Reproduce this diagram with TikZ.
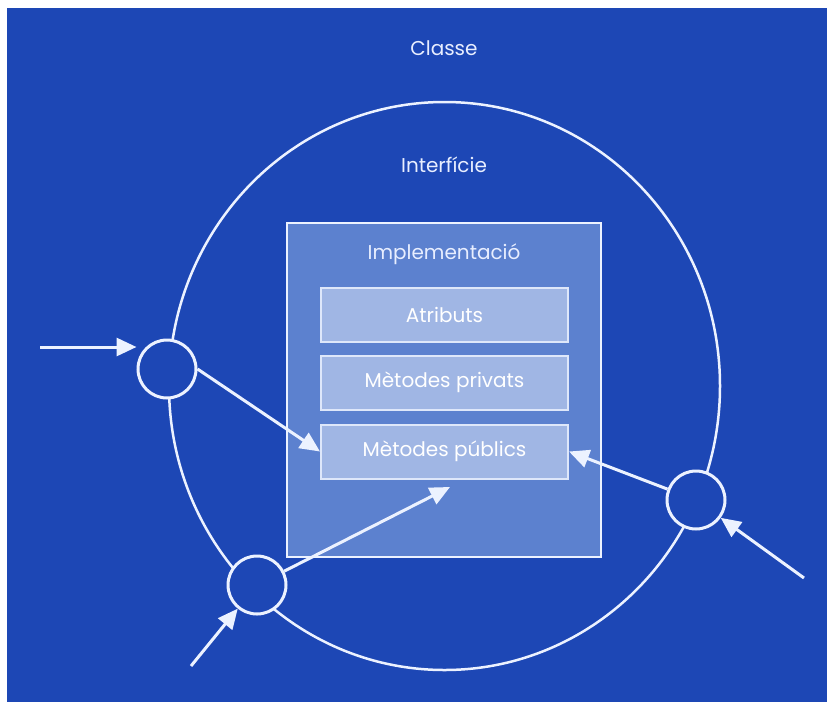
\documentclass[tikz,border=0pt]{standalone}
\usepackage{fontspec}
\setmainfont{Poppins}
\usetikzlibrary{arrows.meta,shapes.geometric}
\definecolor{bg}{RGB}{29,71,181}
\definecolor{impl}{RGB}{92,129,207}
\definecolor{inner}{RGB}{160,182,228}
\definecolor{ln}{RGB}{236,242,255}
\definecolor{txt}{RGB}{232,238,255}
\tikzset{
  lbl/.style={text=txt, font=\fontsize{20}{24}\selectfont, inner sep=0pt},
  bigring/.style={ellipse, draw=ln, line width=2.5pt, minimum width=551pt, minimum height=568pt, inner sep=0pt},
  implbox/.style={rectangle, draw=ln, fill=impl, line width=2pt, minimum width=314pt, minimum height=334pt, inner sep=0pt},
  partbox/.style={rectangle, draw=ln!90!impl, fill=inner, line width=2pt, minimum width=247pt, minimum height=54pt, inner sep=0pt, text=white, font=\fontsize{20}{24}\selectfont},
  port/.style={circle, draw=ln, fill=bg, line width=3pt, minimum size=58pt, inner sep=0pt},
  arr/.style={draw=ln, line width=3pt, -{Triangle[length=20pt,width=18pt]}}
}
\begin{document}
\begin{tikzpicture}[x=1pt,y=-1pt]
\useasboundingbox (0,0) rectangle (827,702);
\fill[bg] (7,8) rectangle (827,702);
\node[bigring] (big) at (444.5,386) {};
\node[lbl] (classe) at (444,48) {Classe};
\node[lbl] (interf) at (444,165) {Interfície};
\node[implbox] (impl) at (444,390) {};
\node[lbl] (impltxt) at (444,254) {Implementació};
\node[partbox] (atr) at (444.5,315) {Atributs};
\node[partbox] (priv) at (444.5,382.5) {Mètodes privats};
\node[partbox] (pub) at (444.5,451.5) {Mètodes públics};
\node[port] (lc) at (167,369) {};
\node[port] (bc) at (257,585) {};
\node[port] (rc) at (696,500) {};
\coordinate (s1) at (40,347);
\coordinate (s4) at (191,666);
\coordinate (s5) at (804,578);
\coordinate (t3) at (450,487);
\draw[arr] (s1) -- (s1 -| lc.west);
\draw[arr] (lc.east) -- (pub.west);
\draw[arr] (bc) -- (t3);
\draw[arr] (s4) -- (bc);
\draw[arr] (s5) -- (rc);
\draw[arr] (rc) -- (pub.east);
\end{tikzpicture}
\end{document}
